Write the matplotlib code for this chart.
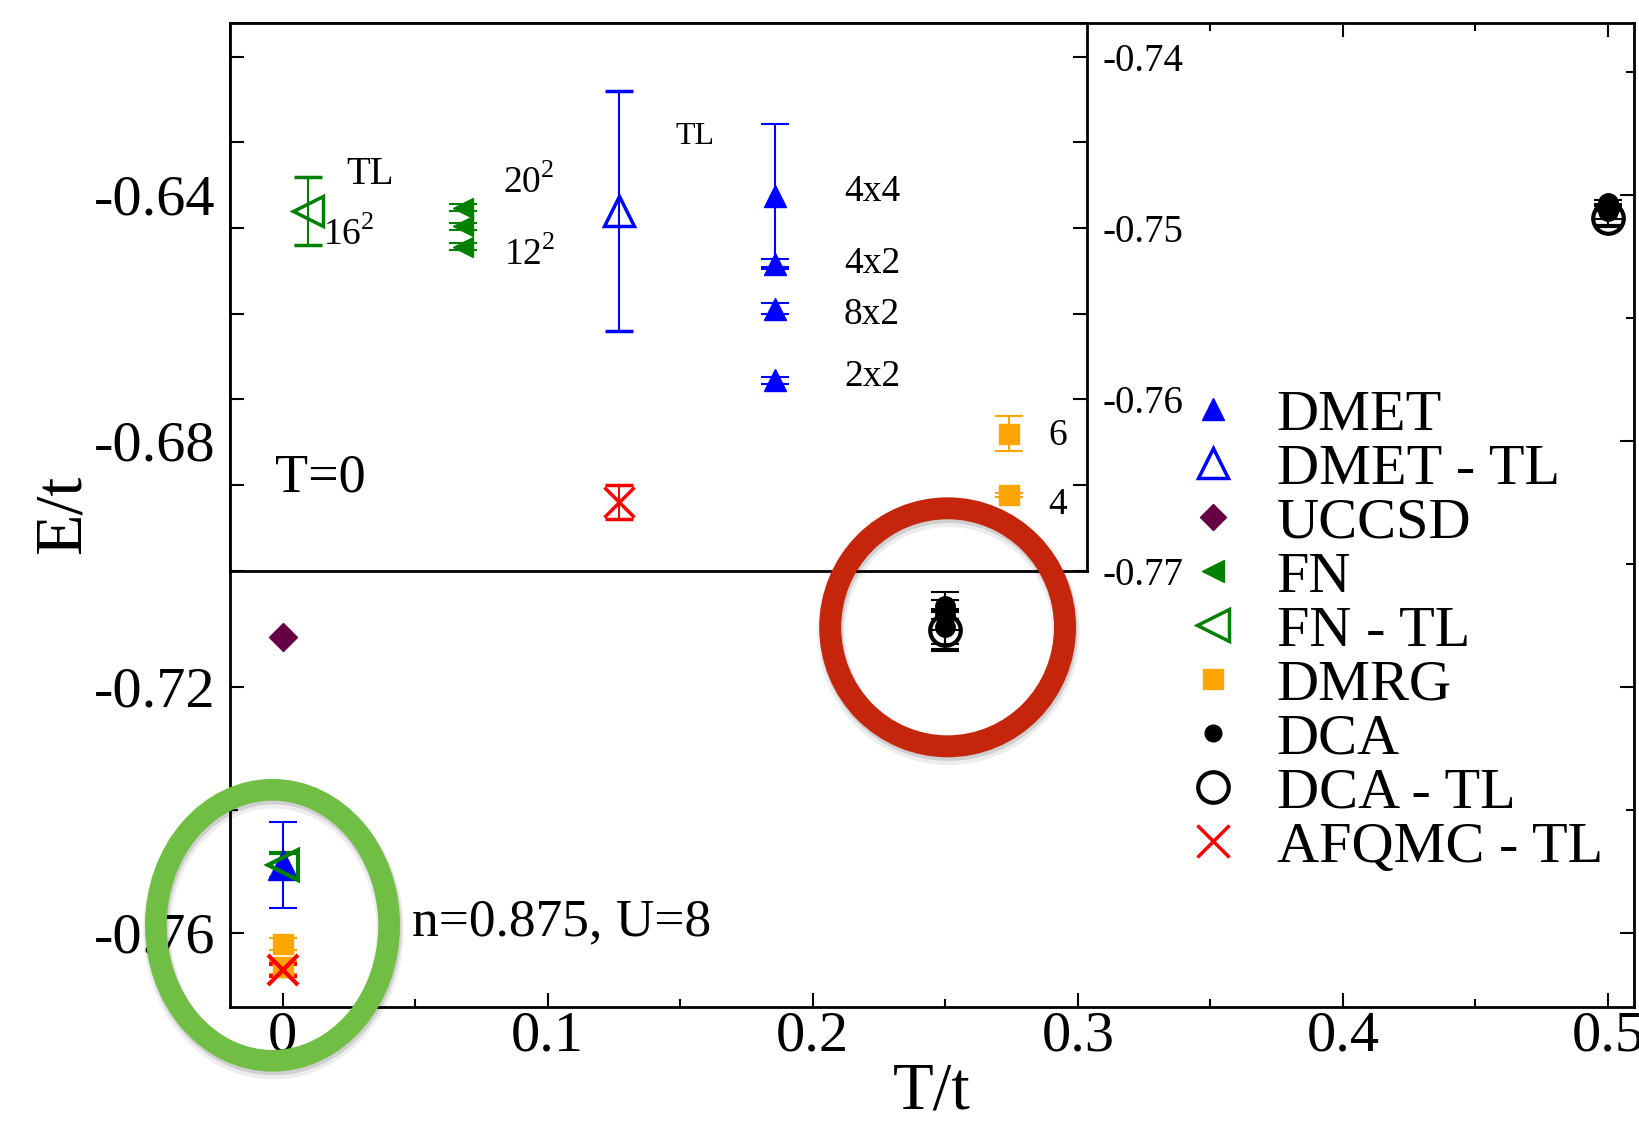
import matplotlib
matplotlib.use('Agg')
import matplotlib.pyplot as plt
from matplotlib.patches import Ellipse
from matplotlib.lines import Line2D
from matplotlib.ticker import MultipleLocator, FuncFormatter

plt.rcParams['font.family'] = ['Liberation Serif', 'DejaVu Serif']
plt.rcParams['mathtext.fontset'] = 'custom'
plt.rcParams['mathtext.rm'] = 'Liberation Serif'
plt.rcParams['axes.unicode_minus'] = False

W, H = 1639, 1125

# ---- main panel: energy vs temperature ----
dmet_T = [0.0]
dmet_E = [-0.7490]
dmet_err = [0.0070]

fn_tl_T = [0.0]
fn_tl_E = [-0.7490]
fn_tl_err = [0.0020]

uccsd_T = [0.0]
uccsd_E = [-0.7119]

dmrg_T = [0.0, 0.0]
dmrg_E = [-0.7618, -0.7656]
dmrg_err = [0.0010, 0.0010]

afqmc_T = [0.0]
afqmc_E = [-0.7660]
afqmc_err = [0.0010]

dca_T = [0.25, 0.25, 0.25, 0.5, 0.5]
dca_E = [-0.7068, -0.7083, -0.7102, -0.6413, -0.6427]
dca_err = [0.0022, 0.0024, 0.0028, 0.0005, 0.0012]

dca_tl_T = [0.25, 0.5]
dca_tl_E = [-0.7108, -0.6437]
dca_tl_err = [0.0032, 0.0013]

# ---- inset: T=0 results (categorical x) ----
inset_x = {'FN - TL': 1, 'FN': 2, 'DMET - TL': 3, 'DMET': 4, 'DMRG': 5.5}

fn_tl0_E = [-0.7490]
fn_tl0_err = [0.0020]
fn0_E = [-0.7488, -0.7499, -0.7511]
fn0_err = [0.0002, 0.0002, 0.0002]
dmet_tl0_E = [-0.7490]
dmet_tl0_err = [0.0070]
dmet0_E = [-0.7481, -0.7521, -0.7547, -0.7589]
dmet0_err = [0.0042, 0.0003, 0.0003, 0.0002]
dmrg0_E = [-0.7620, -0.7656]
dmrg0_err = [0.0010, 0.0001]
afqmc0_E = [-0.7660]
afqmc0_err = [0.0010]

BLUE = '#0000ff'
GREEN = '#008000'
PURPLE = '#650045'
ORANGE = '#ffa500'
RED = '#ff0000'


def fx(px):
    return px / W


def fy(py):
    return 1 - py / H


fig = plt.figure(figsize=(W / 100, H / 100), dpi=100)

ax = fig.add_axes([fx(229.6), fy(1006.8), (1634.4 - 229.6) / W, (1006.8 - 22.6) / H])
ax.set_xlim(-0.02, 0.51)
ax.set_ylim(-0.772, -0.612)

eb = dict(ls='none', elinewidth=1.5, capsize=10, capthick=1.5)
ax.errorbar(dmet_T, dmet_E, yerr=dmet_err, marker='^', ms=21, color=BLUE, **eb)
ax.errorbar(fn_tl_T, fn_tl_E, yerr=fn_tl_err, marker='<', ms=21, mfc='none', mew=3,
            color=GREEN, **eb)
ax.plot(uccsd_T, uccsd_E, ls='none', marker='D', ms=14, color=PURPLE)
ax.errorbar(dmrg_T, dmrg_E, yerr=dmrg_err, marker='s', ms=14, color=ORANGE, **eb)
ax.errorbar(afqmc_T, afqmc_E, yerr=afqmc_err, marker='x', ms=22, mew=3, color=RED, **eb)
ax.errorbar(dca_T, dca_E, yerr=dca_err, marker='o', ms=14, color='black', **eb)
ax.errorbar(dca_tl_T, dca_tl_E, yerr=dca_tl_err, marker='o', ms=22, mfc='none', mew=3,
            color='black', **eb)

ax.xaxis.set_major_locator(MultipleLocator(0.1))
ax.xaxis.set_minor_locator(MultipleLocator(0.05))
ax.yaxis.set_major_locator(MultipleLocator(0.04))
ax.yaxis.set_minor_locator(MultipleLocator(0.02))
ax.xaxis.set_major_formatter(FuncFormatter(lambda v, p: '0' if abs(v) < 1e-9 else f'{v:g}'))
ax.yaxis.set_major_formatter(FuncFormatter(lambda v, p: f'{v:.2f}'))
ax.tick_params(which='both', direction='in', top=True, right=True, width=1.5)
ax.tick_params(which='major', length=10, labelsize=42)
ax.tick_params(which='minor', length=6)
ax.tick_params(axis='x', pad=3)
ax.tick_params(axis='y', pad=10)
for s in ax.spines.values():
    s.set_linewidth(2)

ax.set_xlabel('T/t', fontsize=48)
ax.set_ylabel('E/t', fontsize=49)
ax.xaxis.set_label_coords(0.5, -0.056)
ax.yaxis.set_label_coords(-0.0967, 0.5)

legend_items = [
    ('DMET', dict(marker='^', ms=16, color=BLUE)),
    ('DMET - TL', dict(marker='^', ms=22, color=BLUE, mfc='none', mew=2.5)),
    ('UCCSD', dict(marker='D', ms=13, color=PURPLE)),
    ('FN', dict(marker='<', ms=16, color=GREEN)),
    ('FN - TL', dict(marker='<', ms=23, color=GREEN, mfc='none', mew=2.5)),
    ('DMRG', dict(marker='s', ms=14, color=ORANGE)),
    ('DCA', dict(marker='o', ms=12, color='black')),
    ('DCA - TL', dict(marker='o', ms=22, color='black', mfc='none', mew=3)),
    ('AFQMC - TL', dict(marker='x', ms=23, color=RED, mew=2.5)),
]
handles = [Line2D([], [], ls='none', **kw) for _, kw in legend_items]
labels = [name for name, _ in legend_items]
ax.legend(handles, labels, loc='upper left', bbox_to_anchor=(fx(1183.4), fy(389)),
          bbox_transform=fig.transFigure, frameon=False, fontsize=42,
          handlelength=1.0, handletextpad=0.6, labelspacing=0.02,
          borderpad=0, borderaxespad=0)

# ---- inset ----
ins = fig.add_axes([fx(229.6), fy(570.5), (1087 - 229.6) / W, (570.5 - 22.6) / H])
ins.set_facecolor('white')
ins.set_xlim(0.5, 6.0)
ins.set_ylim(-0.77, -0.738)

ins.errorbar([inset_x['FN - TL']] * len(fn_tl0_E), fn_tl0_E, yerr=fn_tl0_err, marker='<',
             ms=21, mfc='none', mew=2.5, color=GREEN, **eb)
ins.errorbar([inset_x['FN']] * len(fn0_E), fn0_E, yerr=fn0_err, marker='<', ms=15,
             color=GREEN, **eb)
ins.errorbar([inset_x['DMET - TL']] * len(dmet_tl0_E), dmet_tl0_E, yerr=dmet_tl0_err,
             marker='^', ms=21, mfc='none', mew=2.5, color=BLUE, **eb)
ins.errorbar([inset_x['DMET']] * len(dmet0_E), dmet0_E, yerr=dmet0_err, marker='^', ms=16,
             color=BLUE, **eb)
ins.errorbar([inset_x['DMRG']] * len(dmrg0_E), dmrg0_E, yerr=dmrg0_err, marker='s', ms=15,
             color=ORANGE, **eb)
ins.errorbar([inset_x['DMET - TL']] * len(afqmc0_E), afqmc0_E, yerr=afqmc0_err, marker='x',
             ms=22, mew=2.5, color=RED, **eb)

ins.set_xticks([])
ins.yaxis.set_major_locator(MultipleLocator(0.01))
ins.yaxis.set_minor_locator(MultipleLocator(0.005))
ins.yaxis.set_major_formatter(FuncFormatter(lambda v, p: f'{v:.2f}'))
ins.tick_params(axis='y', which='both', direction='in', left=True, right=True,
                labelleft=False, labelright=True, length=10, width=1.5,
                labelsize=28, pad=11)
for s in ins.spines.values():
    s.set_linewidth(2)

# ---- annotations (pixel positions in the figure) ----
notes = [
    ('TL', 346, 184, 28), ('16$^2$', 323, 245, 27), ('20$^2$', 503, 193, 27),
    ('12$^2$', 504, 265, 27), ('TL', 675, 144, 23), ('4x4', 844, 201, 27),
    ('4x2', 844, 273, 27), ('8x2', 844, 324, 27), ('2x2', 844, 386, 27),
    ('6', 1048, 445, 27), ('4', 1048, 514, 27), ('T=0', 275, 491, 39),
    ('n=0.875, U=8', 412, 935, 38.5),
]
for txt, x, y, size in notes:
    fig.text(fx(x), fy(y), txt, fontsize=size, ha='left', va='baseline')


# ---- highlight rings ----
def ring(cx, cy, w, h, color, lw):
    for dx, dy, extra, alpha in [(1, 5, 4, 0.07), (1, 3, 1, 0.12)]:
        fig.add_artist(Ellipse((fx(cx + dx), fy(cy + dy)), w / W, h / H, fill=False,
                               ec='black', lw=lw + extra, alpha=alpha,
                               transform=fig.transFigure, zorder=9))
    fig.add_artist(Ellipse((fx(cx), fy(cy)), w / W, h / H, fill=False, ec=color, lw=lw,
                           transform=fig.transFigure, zorder=10))


ring(947.6, 627.3, 234.8, 238, '#c5260b', 15.8)
ring(272.5, 925.3, 233.3, 271, '#70be44', 15.6)

fig.savefig('out.png', dpi=100)
